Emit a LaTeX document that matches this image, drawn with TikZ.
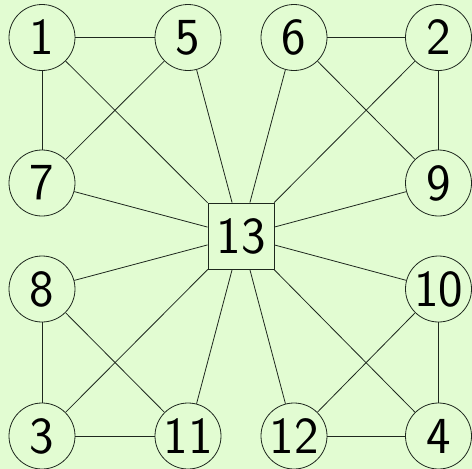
\documentclass[tikz,border=0pt]{standalone}
\usepackage{tikz}
\usetikzlibrary{positioning}
\definecolor{bgfill}{RGB}{226,252,210}
\definecolor{edgecol}{RGB}{30,40,30}
\tikzset{
  vert/.style  ={draw=edgecol, circle, line width=0.8pt, minimum size=66pt, inner sep=0pt, font=\sffamily\fontsize{52}{52}\selectfont},
  hub/.style   ={draw=edgecol, rectangle, line width=0.8pt, minimum size=66pt, inner sep=0pt, font=\sffamily\fontsize{52}{52}\selectfont},
  link/.style  ={draw=edgecol, line width=0.8pt}
}
\newcommand{\lab}[1]{\makebox[0pt]{#1}}

\begin{document}
\begin{tikzpicture}[x=1pt,y=-1pt]
  \fill[bgfill] (0,0) rectangle (472,469);
  \useasboundingbox (0,0) rectangle (472,469);
  \node[vert] (n1)  at (42,37.5)   {\lab{1}};
  \node[vert] (n5)  at (188,37.5)  {\lab{5}};
  \node[vert] (n6)  at (294,37.5)  {\lab{6}};
  \node[vert] (n2)  at (438.5,37.5){\lab{2}};
  \node[vert] (n7)  at (42,183)    {\lab{7}};
  \node[vert] (n9)  at (438.5,183) {\lab{9}};
  \node[hub]  (n13) at (241,236)   {\lab{13}};
  \node[vert] (n8)  at (42,289)    {\lab{8}};
  \node[vert] (n10) at (438.5,289) {\lab{10}};
  \node[vert] (n3)  at (42,436)    {\lab{3}};
  \node[vert] (n11) at (188,436)   {\lab{11}};
  \node[vert] (n12) at (294,436)   {\lab{12}};
  \node[vert] (n4)  at (438.5,436) {\lab{4}};
  \draw[link] (n1) -- (n5); \draw[link] (n1) -- (n7); \draw[link] (n5) -- (n7);
  \draw[link] (n6) -- (n2); \draw[link] (n2) -- (n9); \draw[link] (n6) -- (n9);
  \draw[link] (n8) -- (n3); \draw[link] (n3) -- (n11); \draw[link] (n8) -- (n11);
  \draw[link] (n12) -- (n4); \draw[link] (n10) -- (n4); \draw[link] (n10) -- (n12);
  \foreach \v in {n1,n5,n6,n2,n7,n9,n8,n10,n3,n11,n12,n4}
    \draw[link] (n13) -- (\v);
\end{tikzpicture}
\end{document}
